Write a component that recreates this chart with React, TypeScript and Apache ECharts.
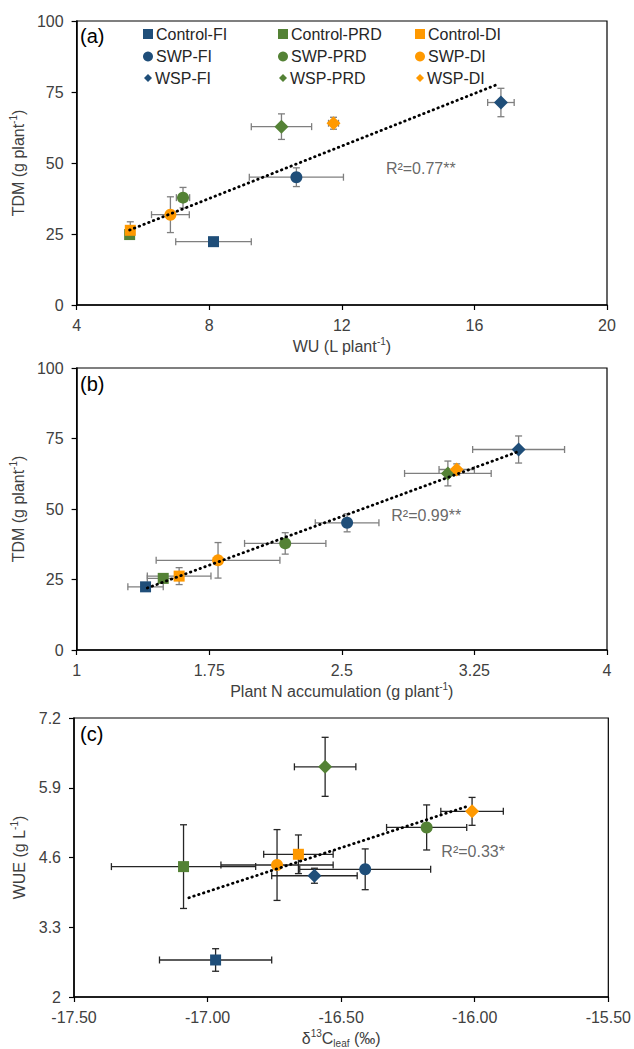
import React, { useEffect, useRef } from "react";
import * as echarts from "echarts";

const treatments = [
  "Control-FI", "Control-PRD", "Control-DI",
  "SWP-FI", "SWP-PRD", "SWP-DI",
  "WSP-FI", "WSP-PRD", "WSP-DI",
];
const symbols = ["rect", "rect", "rect", "circle", "circle", "circle", "diamond", "diamond", "diamond"];
const colors = ["#1F4E79", "#548235", "#FF9900", "#1F4E79", "#548235", "#FF9900", "#1F4E79", "#548235", "#FF9900"];
const symbolSizes = [11, 11, 11, 12, 12, 12, 14, 14, 14];

// Panel (a): water use vs total dry matter
const wuA = [8.13, 5.6, 5.62, 10.63, 7.21, 6.83, 16.8, 10.18, 11.75];
const wuErrA = [1.14, 0.05, 0.05, 1.42, 0.2, 0.57, 0.4, 0.91, 0.15];
const tdmA = [22.3, 24.8, 26.3, 45.0, 37.8, 31.8, 71.3, 62.8, 64.0];
const tdmErrA = [0.8, 1.5, 3.0, 3.3, 3.6, 6.3, 5.0, 4.5, 2.1];
const trendA = [[5.6, 26.4], [16.7, 77.7]];

// Panel (b): plant N accumulation vs TDM
const nB = [1.39, 1.49, 1.58, 2.53, 2.18, 1.8, 3.5, 3.1, 3.15];
const nErrB = [0.1, 0.09, 0.18, 0.18, 0.23, 0.35, 0.26, 0.245, 0.1];
const tdmB = [22.4, 25.4, 26.2, 45.1, 37.8, 31.8, 71.1, 62.6, 64.0];
const tdmErrB = [0.8, 1.5, 3.0, 3.2, 3.8, 6.3, 4.8, 4.4, 2.0];
const trendB = [[1.4, 22.0], [3.5, 70.4]];

// Panel (c): d13C leaf vs WUE
const d13C = [-16.97, -17.09, -16.66, -16.41, -16.18, -16.74, -16.6, -16.56, -16.01];
const d13CErr = [0.21, 0.27, 0.13, 0.245, 0.15, 0.21, 0.16, 0.115, 0.117];
const wueC = [2.69, 4.43, 4.66, 4.38, 5.16, 4.46, 4.26, 6.29, 5.46];
const wueErrC = [0.21, 0.78, 0.36, 0.38, 0.42, 0.66, 0.14, 0.55, 0.26];
const trendC = [[-17.07, 3.85], [-16.03, 5.55]];

const r2Labels = ["R²=0.77**", "R²=0.99**", "R²=0.33*"];
const r2Pos = [[13.33, 48.2], [2.78, 47.8], [-16.125, 4.71]];

const FONT = "'Liberation Sans', Arial, sans-serif";
const TXT = "#404040";
const FS = 16;

function errRenderer(color: string) {
  return (params: any, api: any) => {
    const x = api.value(0), y = api.value(1), ex = api.value(2), ey = api.value(3);
    const c = api.coord([x, y]);
    const l = api.coord([x - ex, y]);
    const r = api.coord([x + ex, y]);
    const t = api.coord([x, y + ey]);
    const b = api.coord([x, y - ey]);
    const cap = 3.5;
    const style = { stroke: color, lineWidth: 1.3, fill: "none" };
    return {
      type: "group",
      children: [
        { type: "line", shape: { x1: l[0], y1: c[1], x2: r[0], y2: c[1] }, style },
        { type: "line", shape: { x1: l[0], y1: c[1] - cap, x2: l[0], y2: c[1] + cap }, style },
        { type: "line", shape: { x1: r[0], y1: c[1] - cap, x2: r[0], y2: c[1] + cap }, style },
        { type: "line", shape: { x1: c[0], y1: t[1], x2: c[0], y2: b[1] }, style },
        { type: "line", shape: { x1: c[0] - cap, y1: t[1], x2: c[0] + cap, y2: t[1] }, style },
        { type: "line", shape: { x1: c[0] - cap, y1: b[1], x2: c[0] + cap, y2: b[1] }, style },
      ],
    };
  };
}

const rich = {
  n: { fontSize: FS, color: TXT, fontFamily: FONT, lineHeight: 20 },
  sup: { fontSize: 10, color: TXT, fontFamily: FONT, lineHeight: 12, verticalAlign: "top" },
  sub: { fontSize: 10, color: TXT, fontFamily: FONT, lineHeight: 10, verticalAlign: "bottom" },
};

function axis(extra: any) {
  return {
    type: "value",
    nameLocation: "middle",
    nameTextStyle: { color: TXT, fontSize: FS, fontFamily: FONT, rich },
    axisLine: { show: true, onZero: false, lineStyle: { color: "#000", width: 1.5 } },
    axisTick: { show: true, inside: false, length: 5, lineStyle: { color: "#000", width: 1.2 } },
    axisLabel: { color: TXT, fontSize: FS, fontFamily: FONT, margin: 12 },
    splitLine: { show: false },
    ...extra,
  };
}

export default function App() {
  const ref = useRef<HTMLDivElement>(null);
  useEffect(() => {
    if (!ref.current) return;
    const chart = echarts.init(ref.current, null, { renderer: "svg" });

    const panels = [
      { xs: wuA, xe: wuErrA, ys: tdmA, ye: tdmErrA, trend: trendA, errColor: "#7F7F7F" },
      { xs: nB, xe: nErrB, ys: tdmB, ye: tdmErrB, trend: trendB, errColor: "#7F7F7F" },
      { xs: d13C, xe: d13CErr, ys: wueC, ye: wueErrC, trend: trendC, errColor: "#262626" },
    ];

    const series: any[] = [];
    panels.forEach((p, pi) => {
      series.push({
        type: "custom",
        name: "err" + pi,
        xAxisIndex: pi,
        yAxisIndex: pi,
        renderItem: errRenderer(p.errColor),
        encode: { x: 0, y: 1 },
        clip: false,
        silent: true,
        z: 1,
        data: p.xs.map((x, i) => [x, p.ys[i], p.xe[i], p.ye[i]]),
      });
      treatments.forEach((t, i) => {
        series.push({
          type: "scatter",
          name: t,
          xAxisIndex: pi,
          yAxisIndex: pi,
          symbol: symbols[i],
          symbolSize: symbolSizes[i],
          itemStyle: { color: colors[i], opacity: 1 },
          z: 3,
          data: [[p.xs[i], p.ys[i]]],
        });
      });
      series.push({
        type: "line",
        name: "trend" + pi,
        xAxisIndex: pi,
        yAxisIndex: pi,
        showSymbol: false,
        silent: true,
        z: 5,
        lineStyle: { color: "#000", width: 2.8, type: [0.5, 4.6], cap: "round" },
        data: p.trend,
      });
      series.push({
        type: "scatter",
        name: "r2" + pi,
        xAxisIndex: pi,
        yAxisIndex: pi,
        symbolSize: 0,
        silent: true,
        z: 6,
        label: {
          show: true,
          position: "right",
          distance: 0,
          formatter: r2Labels[pi],
          color: TXT,
          fontSize: FS,
          fontFamily: FONT,
        },
        data: [r2Pos[pi]],
      });
    });

    const legendLeft = [143, 278, 415];
    const legendTop = [26, 48.5, 70];
    const legends = treatments.map((t, i) => {
      const small = symbols[i] === "diamond";
      return {
        left: legendLeft[i % 3] + (small ? 1 : 0),
        top: legendTop[Math.floor(i / 3)],
        padding: 0,
        itemGap: 0,
        data: [{ name: t, icon: symbols[i] }],
        itemWidth: small ? 8 : 10,
        itemHeight: small ? 8 : 10,
        selectedMode: false,
        textStyle: { fontSize: FS, color: "#262626", fontFamily: FONT, lineHeight: 16, padding: [0, 0, 0, -2] },
      };
    });

    const fmt1 = (v: number) => String(Math.round(v * 10) / 10);

    const option: any = {
      animation: false,
      backgroundColor: "#fff",
      grid: [
        { left: 74, top: 21, width: 533, height: 284, show: true, borderColor: "#000", borderWidth: 1.2 },
        { left: 74, top: 368, width: 533, height: 282, show: true, borderColor: "#000", borderWidth: 1.2 },
        { left: 74, top: 718, width: 535, height: 283, show: true, borderColor: "#000", borderWidth: 1.2 },
      ],
      legend: legends,
      xAxis: [
        axis({ gridIndex: 0, min: 4, max: 20, interval: 4, name: "{n|WU (L plant}{sup|-1}{n|)}", nameGap: 31 }),
        axis({ gridIndex: 1, min: 1, max: 4, interval: 0.75, name: "{n|Plant N accumulation (g plant}{sup|-1}{n|)}", nameGap: 31 }),
        axis({
          gridIndex: 2, min: -17.5, max: -15.5, interval: 0.5,
          name: "{n|δ}{sup|13}{n|C}{sub|leaf}{n| (‰)}", nameGap: 31,
          axisLabel: { color: TXT, fontSize: FS, fontFamily: FONT, margin: 12, formatter: (v: number) => v.toFixed(2) },
        }),
      ],
      yAxis: [
        axis({ gridIndex: 0, min: 0, max: 100, interval: 25, name: "{n|TDM (g plant}{sup|-1}{n|)}", nameGap: 45, axisLabel: { color: TXT, fontSize: FS, fontFamily: FONT, margin: 13 } }),
        axis({ gridIndex: 1, min: 0, max: 100, interval: 25, name: "{n|TDM (g plant}{sup|-1}{n|)}", nameGap: 45, axisLabel: { color: TXT, fontSize: FS, fontFamily: FONT, margin: 13 } }),
        axis({
          gridIndex: 2, min: 2, max: 7.2, interval: 1.3, name: "{n|WUE (g L}{sup|-1}{n|)}", nameGap: 39,
          axisLabel: { color: TXT, fontSize: FS, fontFamily: FONT, margin: 13, formatter: fmt1 },
        }),
      ],
      graphic: [
        { type: "text", left: 80, top: 26, style: { text: "(a)", fontSize: 20, fill: "#000", fontFamily: FONT } },
        { type: "text", left: 80, top: 374, style: { text: "(b)", fontSize: 20, fill: "#000", fontFamily: FONT } },
        { type: "text", left: 80, top: 724, style: { text: "(c)", fontSize: 20, fill: "#000", fontFamily: FONT } },
      ],
      series,
    };
    chart.setOption(option);
    return () => chart.dispose();
  }, []);
  return (
    <div
      ref={ref}
      style={{ position: "absolute", left: 0, top: 0, width: 634, height: 1049 }}
    />
  );
}
